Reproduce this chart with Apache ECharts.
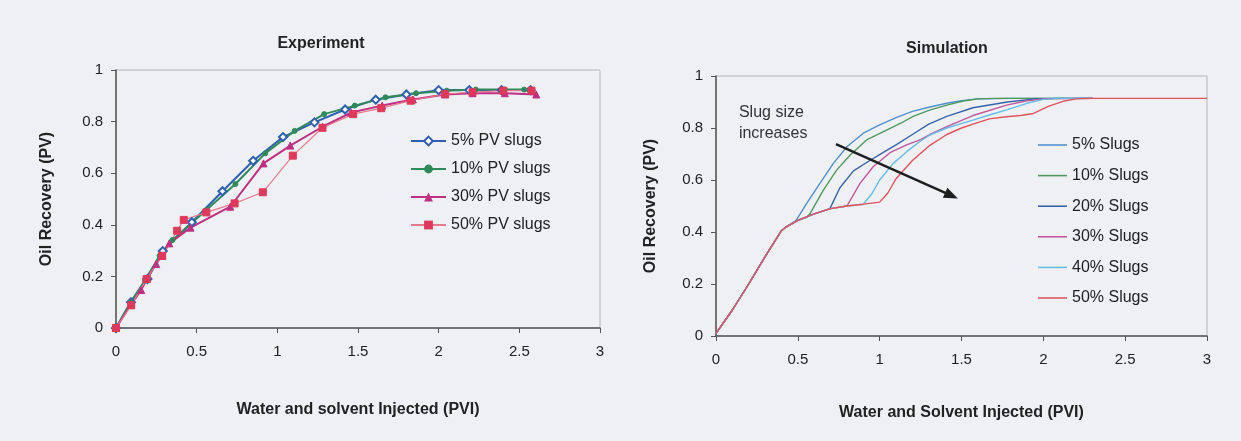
<!DOCTYPE html>
<html>
<head>
<meta charset="utf-8">
<title>Oil recovery: experiment vs simulation</title>
<script src="https://cdn.jsdelivr.net/npm/echarts@6/dist/echarts.min.js"></script>
<style>
  html, body { margin: 0; padding: 0; background: #eef0f4; }
  #chart { width: 1241px; height: 441px; }
</style>
</head>
<body>
<div id="chart"></div>
<script>
// ---- Experiment: oil recovery (PV) vs water + solvent injected (PVI) ----
const expNames = ['5% PV slugs', '10% PV slugs', '30% PV slugs', '50% PV slugs'];

const exp5 = [[0,0],[0.093,0.10],[0.195,0.19],[0.29,0.298],[0.47,0.41],[0.66,0.53],[0.85,0.648],
  [1.035,0.74],[1.23,0.797],[1.42,0.847],[1.61,0.885],[1.80,0.905],[2.0,0.922],[2.19,0.922],
  [2.39,0.922],[2.57,0.922]];
const exp10 = [[0,0],[0.09,0.10],[0.18,0.185],[0.27,0.28],[0.35,0.341],[0.56,0.457],[0.74,0.558],
  [0.925,0.677],[1.107,0.764],[1.29,0.829],[1.48,0.862],[1.67,0.894],[1.86,0.91],[2.05,0.92],
  [2.23,0.924],[2.41,0.924],[2.53,0.924]];
const exp30 = [[0,0],[0.094,0.092],[0.156,0.147],[0.19,0.19],[0.249,0.248],[0.286,0.28],[0.33,0.328],
  [0.462,0.389],[0.708,0.47],[0.914,0.638],[1.08,0.707],[1.28,0.78],[1.457,0.835],[1.65,0.862],
  [1.84,0.886],[2.04,0.905],[2.21,0.91],[2.41,0.91],[2.605,0.905]];
const exp50 = [[0,0],[0.094,0.088],[0.19,0.19],[0.286,0.28],[0.379,0.377],[0.42,0.419],[0.56,0.448],
  [0.735,0.483],[0.91,0.526],[1.096,0.668],[1.28,0.776],[1.47,0.829],[1.644,0.852],[1.826,0.881],
  [2.04,0.907],[2.21,0.914],[2.40,0.92],[2.575,0.92]];

// ---- Simulation: same axes, six slug sizes ----
const simNames = ['5% Slugs', '10% Slugs', '20% Slugs', '30% Slugs', '40% Slugs', '50% Slugs'];

const sim5 = [[0,0.01],[0.1,0.1],[0.2,0.2],[0.3,0.305],[0.4,0.405],[0.43,0.42],[0.49,0.445],
  [0.554,0.51],[0.635,0.587],[0.717,0.664],[0.8,0.728],[0.9,0.78],[1.0,0.812],[1.1,0.84],
  [1.2,0.864],[1.3,0.88],[1.41,0.895],[1.5,0.905],[1.6,0.912],[1.8,0.914],[2.3,0.914]];
const sim10 = [[0,0.01],[0.1,0.1],[0.2,0.2],[0.3,0.305],[0.4,0.405],[0.43,0.42],[0.5,0.445],
  [0.55,0.455],[0.574,0.47],[0.655,0.56],[0.737,0.638],[0.82,0.696],[0.92,0.754],[1.02,0.785],
  [1.145,0.824],[1.205,0.845],[1.3,0.868],[1.41,0.888],[1.51,0.904],[1.6,0.912],[1.7,0.914],[2.3,0.914]];
const sim20 = [[0,0.01],[0.1,0.1],[0.2,0.2],[0.3,0.305],[0.4,0.405],[0.43,0.42],[0.5,0.445],
  [0.6,0.47],[0.696,0.49],[0.757,0.57],[0.84,0.635],[0.94,0.675],[1.02,0.705],[1.1,0.735],
  [1.2,0.775],[1.3,0.815],[1.41,0.845],[1.57,0.878],[1.78,0.90],[1.95,0.912],[2.1,0.914],[2.3,0.914]];
const sim30 = [[0,0.01],[0.1,0.1],[0.2,0.2],[0.3,0.305],[0.4,0.405],[0.43,0.42],[0.5,0.445],
  [0.6,0.47],[0.7,0.49],[0.8,0.5],[0.88,0.587],[0.96,0.651],[1.063,0.705],[1.165,0.735],
  [1.25,0.755],[1.307,0.775],[1.41,0.805],[1.57,0.848],[1.776,0.888],[1.9,0.905],[2.0,0.912],[2.3,0.914]];
const sim40 = [[0,0.01],[0.1,0.1],[0.2,0.2],[0.3,0.305],[0.4,0.405],[0.43,0.42],[0.5,0.445],
  [0.6,0.47],[0.7,0.49],[0.8,0.5],[0.9,0.507],[0.95,0.545],[1.0,0.6],[1.083,0.664],[1.165,0.709],
  [1.25,0.75],[1.307,0.773],[1.41,0.80],[1.57,0.83],[1.67,0.85],[1.776,0.87],[1.9,0.895],
  [2.0,0.91],[2.1,0.914],[2.3,0.914]];
const sim50 = [[0,0.01],[0.1,0.1],[0.2,0.2],[0.3,0.305],[0.4,0.405],[0.43,0.42],[0.5,0.445],
  [0.6,0.47],[0.7,0.49],[0.8,0.5],[0.9,0.507],[1.0,0.515],[1.05,0.55],[1.1,0.605],[1.2,0.675],
  [1.3,0.73],[1.41,0.775],[1.5,0.80],[1.57,0.815],[1.67,0.835],[1.776,0.843],[1.86,0.848],
  [1.94,0.856],[2.03,0.883],[2.13,0.904],[2.2,0.912],[2.3,0.914],[3.0,0.914]];

// "Slug size increases" arrow, in data units of the simulation panel
const arrowFrom = [0.733, 0.738];
const arrowTo = [1.439, 0.540];
const noteAt = [0.14, 0.817];

const FONT = '"Liberation Sans", Arial, sans-serif';
const AXIS_COLOR = '#555';
// thin horizontal stroke centred in a 30x14 box (the two moves fix the box size)
const LINE_ICON = 'path://M0,0 M30,14 M0,6.2 L30,6.2 L30,7.8 L0,7.8 Z';

function xAxisFor(gridIndex, name, gap) {
  return {
    type: 'value', gridIndex, min: 0, max: 3, interval: 0.5,
    name, nameLocation: 'middle', nameGap: gap,
    nameTextStyle: { fontFamily: FONT, fontSize: 16, fontWeight: 'bold', color: '#222' },
    axisLine: { show: true, onZero: false, lineStyle: { color: AXIS_COLOR, width: 1.5 } },
    axisTick: { show: true, inside: false, length: 5, lineStyle: { color: AXIS_COLOR } },
    axisLabel: { fontFamily: FONT, fontSize: 15, color: '#222', margin: 16 },
    splitLine: { show: false }
  };
}
function yAxisFor(gridIndex, gap) {
  return {
    type: 'value', gridIndex, min: 0, max: 1, interval: 0.2,
    name: 'Oil Recovery (PV)', nameLocation: 'middle', nameGap: gap, nameRotate: 90,
    nameTextStyle: { fontFamily: FONT, fontSize: 16, fontWeight: 'bold', color: '#222' },
    axisLine: { show: true, onZero: false, lineStyle: { color: AXIS_COLOR, width: 1.5 } },
    axisTick: { show: true, inside: false, length: 5, lineStyle: { color: AXIS_COLOR } },
    axisLabel: { fontFamily: FONT, fontSize: 15, color: '#222', margin: 13 },
    splitLine: { show: false }
  };
}

function expSeries(name, data, color, lineColor, symbol, size, width) {
  return {
    type: 'line', name, data, xAxisIndex: 0, yAxisIndex: 0,
    symbol, symbolSize: size, showSymbol: true,
    itemStyle: { color, borderColor: color },
    lineStyle: { color: lineColor, width },
    emphasis: { disabled: true }
  };
}
function simSeries(name, data, color) {
  return {
    type: 'line', name, data, xAxisIndex: 1, yAxisIndex: 1,
    symbol: 'none', showSymbol: false,
    itemStyle: { color },
    lineStyle: { color, width: 1.4 },
    emphasis: { disabled: true }
  };
}

const sim50Series = simSeries(simNames[5], sim50, '#e2525c');
sim50Series.markLine = {
  silent: true,
  symbol: ['none', 'triangle'],
  symbolSize: [11, 14],
  itemStyle: { color: '#1d1f1f' },
  lineStyle: { color: '#1d1f1f', width: 2.5, type: 'solid' },
  label: { show: false },
  emphasis: { disabled: true },
  data: [[{ coord: arrowFrom }, { coord: arrowTo }]]
};
sim50Series.markPoint = {
  silent: true,
  symbol: 'circle', symbolSize: 0,
  itemStyle: { color: 'transparent' },
  label: {
    show: true, position: 'right', distance: 0,
    formatter: 'Slug size\nincreases',
    fontFamily: FONT, fontSize: 16, lineHeight: 21, color: '#333', align: 'left'
  },
  data: [{ coord: noteAt }]
};

const option = {
  animation: false,
  backgroundColor: '#eef0f4',
  grid: [
    { left: 116, top: 70, width: 484, height: 258, show: true, borderColor: '#b5b5b8', borderWidth: 1, backgroundColor: 'transparent' },
    { left: 716, top: 76, width: 491, height: 260, show: true, borderColor: '#b5b5b8', borderWidth: 1, backgroundColor: 'transparent' }
  ],
  xAxis: [
    xAxisFor(0, 'Water and solvent Injected (PVI)', 74),
    xAxisFor(1, 'Water and Solvent Injected (PVI)', 69)
  ],
  yAxis: [yAxisFor(0, 61), yAxisFor(1, 57)],
  legend: [
    {
      data: expNames, orient: 'vertical', left: 410, top: 133, padding: 0,
      itemWidth: 35, itemHeight: 11, itemGap: 12,
      textStyle: { fontFamily: FONT, fontSize: 16, color: '#222' },
      selectedMode: false
    },
    {
      data: simNames.map(n => ({ name: n, icon: LINE_ICON })),
      orient: 'vertical', left: 1038, top: 137, padding: 0,
      itemWidth: 29, itemHeight: 14, itemGap: 14.6,
      textStyle: { fontFamily: FONT, fontSize: 16, color: '#222' },
      selectedMode: false
    }
  ],
  graphic: [
    { type: 'text', x: 321, y: 44, style: { text: 'Experiment', fill: '#222', font: 'bold 16px ' + FONT, align: 'center', verticalAlign: 'middle' } },
    { type: 'text', x: 947, y: 49, style: { text: 'Simulation', fill: '#222', font: 'bold 16px ' + FONT, align: 'center', verticalAlign: 'middle' } }
  ],
  series: [
    expSeries(expNames[0], exp5, '#2f5fb0', '#2f5fb0', 'emptyDiamond', 8, 2),
    expSeries(expNames[1], exp10, '#2e8a5a', '#2e8a5a', 'circle', 5, 2),
    expSeries(expNames[2], exp30, '#bf2f82', '#bf2f82', 'triangle', 7, 2),
    expSeries(expNames[3], exp50, '#e0385a', '#e77a8e', 'rect', 7, 1.2),
    simSeries(simNames[0], sim5, '#4f8fcf'),
    simSeries(simNames[1], sim10, '#4e9a5c'),
    simSeries(simNames[2], sim20, '#3465a8'),
    simSeries(simNames[3], sim30, '#c0569c'),
    simSeries(simNames[4], sim40, '#63bde8'),
    sim50Series
  ]
};

const chart = echarts.init(document.getElementById('chart'), null, { renderer: 'canvas' });
chart.setOption(option);
</script>
</body>
</html>
